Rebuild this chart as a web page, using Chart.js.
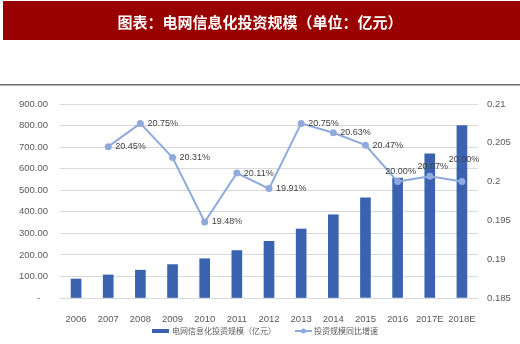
<!DOCTYPE html>
<html><head><meta charset="utf-8">
<script src="https://cdn.jsdelivr.net/npm/chart.js@4/dist/chart.umd.min.js"></script>
<style>html,body{margin:0;padding:0;background:#fff;}canvas{display:block}</style>
</head><body><canvas id="c" width="520" height="344"></canvas>
<script>
const titleText = '图表：电网信息化投资规模（单位：亿元）';
const categories = ['2006','2007','2008','2009','2010','2011','2012','2013','2014','2015','2016','2017E','2018E'];
const investment = [88,107,129,155,182,220,263,320,386,465,556,669,800];
const growth = [null,0.2045,0.2075,0.2031,0.1948,0.2011,0.1991,0.2075,0.2063,0.2047,0.2000,0.2007,0.2000];
const seriesNames = ['电网信息化投资规模（亿元）','投资规模同比增速'];
const leftTicks = [0,100,200,300,400,500,600,700,800,900];
const rightTicks = [0.185,0.19,0.195,0.2,0.205,0.21];

const BAR_COLOR = '#3A62AE';
const LINE_COLOR = '#8FAADC';
const TEXT_COLOR = '#595959';
const FONT = "'Liberation Sans', 'Noto Sans CJK SC', sans-serif";
const CJK = "'Noto Sans CJK SC', sans-serif";

// label placement per point (style only)
const labelPlace = ['right','right','right','right','right','right','right','right','right','right','above','above','high'];

const decor = {
  id: 'decor',
  beforeDraw(chart) {
    const ctx = chart.ctx;
    ctx.save();
    ctx.fillStyle = '#fff';
    ctx.fillRect(0, 0, 520, 344);
    ctx.fillStyle = '#990000';
    ctx.fillRect(3, 1, 517, 39);
    ctx.fillStyle = '#ffffff';
    ctx.font = "bold 15px " + CJK;
    ctx.textAlign = 'center';
    ctx.textBaseline = 'middle';
    ctx.fillText(titleText, 260, 22);
    ctx.fillStyle = '#6a6a6a';
    ctx.fillRect(0, 84, 520, 1.5);
    ctx.restore();
  },
  afterDatasetsDraw(chart) {
    const ctx = chart.ctx;
    const meta = chart.getDatasetMeta(1);
    ctx.save();
    ctx.font = "9px " + FONT;
    ctx.fillStyle = '#404040';
    ctx.textBaseline = 'middle';
    meta.data.forEach((pt, i) => {
      const v = growth[i];
      if (v === null) return;
      const txt = (v * 100).toFixed(2) + '%';
      const p = labelPlace[i];
      if (p === 'right') {
        ctx.textAlign = 'left';
        ctx.fillText(txt, pt.x + 7, pt.y);
      } else if (p === 'above') {
        ctx.textAlign = 'center';
        ctx.fillText(txt, pt.x + 3, pt.y - 10);
      } else {
        ctx.textAlign = 'center';
        ctx.fillText(txt, pt.x + 2, pt.y - 22);
      }
    });
    ctx.restore();
  },
  afterDraw(chart) {
    const ctx = chart.ctx;
    ctx.save();
    ctx.font = "8px " + CJK;
    ctx.fillStyle = TEXT_COLOR;
    ctx.textBaseline = 'middle';
    ctx.textAlign = 'left';
    const y = 331;
    let x = 152;
    ctx.fillStyle = BAR_COLOR;
    ctx.fillRect(x, y - 2, 17, 4);
    ctx.fillStyle = TEXT_COLOR;
    ctx.fillText(seriesNames[0], x + 20, y);
    x = x + 20 + ctx.measureText(seriesNames[0]).width + 19;
    ctx.strokeStyle = LINE_COLOR;
    ctx.lineWidth = 2;
    ctx.beginPath(); ctx.moveTo(x, y); ctx.lineTo(x + 17, y); ctx.stroke();
    ctx.fillStyle = LINE_COLOR;
    ctx.beginPath(); ctx.arc(x + 8.5, y, 2.5, 0, Math.PI * 2); ctx.fill();
    ctx.fillStyle = TEXT_COLOR;
    ctx.fillText(seriesNames[1], x + 19, y);
    ctx.restore();
  }
};

new Chart(document.getElementById('c'), {
  data: {
    labels: categories,
    datasets: [
      { type: 'bar', label: seriesNames[0], data: investment, yAxisID: 'y',
        backgroundColor: BAR_COLOR, barThickness: 10, order: 2 },
      { type: 'line', label: seriesNames[1], data: growth, yAxisID: 'y1',
        borderColor: LINE_COLOR, backgroundColor: LINE_COLOR, borderWidth: 2,
        pointRadius: 2.5, pointHoverRadius: 2.5, tension: 0, spanGaps: false, order: 1 }
    ]
  },
  options: {
    responsive: false,
    animation: false,
    devicePixelRatio: 1,
    layout: { padding: { top: 104, left: 0, right: 0, bottom: 0 } },
    plugins: { legend: { display: false }, tooltip: { enabled: false } },
    scales: {
      x: {
        grid: { display: false }, border: { display: false },
        ticks: { padding: 8, color: TEXT_COLOR, font: { size: 9.5, family: FONT }, maxRotation: 0, autoSkip: false },
        afterFit: s => { s.height = 46; }
      },
      y: {
        position: 'left', min: 0, max: 900,
        grid: { color: '#D9D9D9', drawTicks: false, lineWidth: 1 }, border: { display: false },
        afterBuildTicks: s => { s.ticks = leftTicks.map(v => ({ value: v })); },
        ticks: { padding: 12, color: TEXT_COLOR, font: { size: 9.5, family: FONT },
          callback: v => v === 0 ? '-   ' : Number(v).toFixed(2) },
        afterFit: s => { s.width = 60; }
      },
      y1: {
        position: 'right', min: 0.185, max: 0.21,
        grid: { display: false, drawTicks: false }, border: { display: false },
        afterBuildTicks: s => { s.ticks = rightTicks.map(v => ({ value: v })); },
        ticks: { padding: 9, color: TEXT_COLOR, font: { size: 9.5, family: FONT },
          callback: v => String(parseFloat(Number(v).toFixed(3))) },
        afterFit: s => { s.width = 42; }
      }
    }
  },
  plugins: [decor]
});
</script></body></html>
